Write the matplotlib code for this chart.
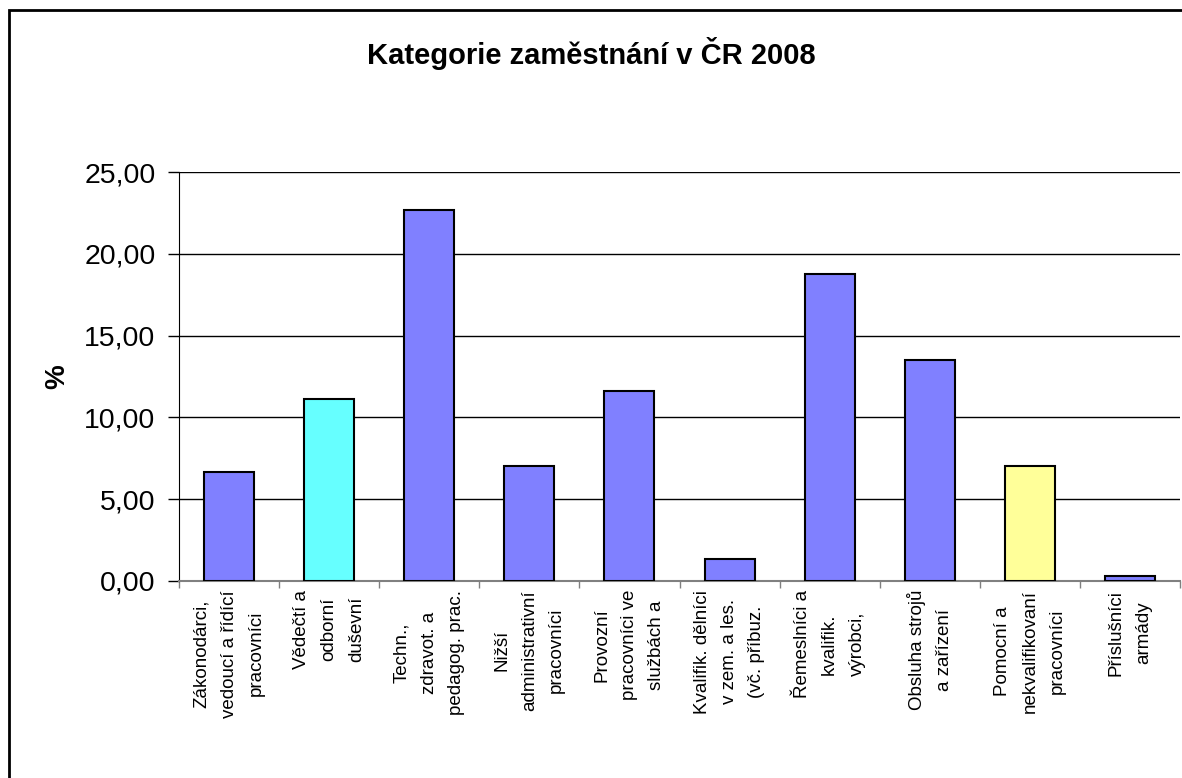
import matplotlib
matplotlib.use('Agg')
import matplotlib.pyplot as plt
from matplotlib.patches import Rectangle
import numpy as np

plt.rcParams['font.family'] = ['Liberation Sans', 'DejaVu Sans']

# data
categories = [
    'Zákonodárci,\nvedoucí a řídící\npracovníci',
    'Vědečtí a\nodborní\nduševní',
    'Techn.,\nzdravot. a\npedagog. prac.',
    'Nižší\nadministrativní\npracovníci',
    'Provozní\npracovníci ve\nslužbách a',
    'Kvalifik. dělníci\nv zem. a les.\n(vč. příbuz.',
    'Řemeslníci a\nkvalifik.\nvýrobci,',
    'Obsluha strojů\na zařízení',
    'Pomocní a\nnekvalifikovaní\npracovníci',
    'Příslušníci\narmády',
]
values = [6.66, 11.12, 22.68, 7.03, 11.61, 1.34, 18.77, 13.51, 7.03, 0.31]
colors = ['#8080FF', '#66FFFF', '#8080FF', '#8080FF', '#8080FF',
          '#8080FF', '#8080FF', '#8080FF', '#FFFF99', '#8080FF']
y_ticks = [0, 5, 10, 15, 20, 25]

fig = plt.figure(figsize=(11.82, 7.78), dpi=100)
ax = fig.add_axes([179 / 1182, 197 / 778, 1001 / 1182, 409 / 778])

x = np.arange(len(values))
ax.bar(x, values, width=0.5, color=colors, edgecolor='black', linewidth=1.5, zorder=3)

ax.set_xlim(-0.5, len(values) - 0.5)
ax.set_ylim(0, 25)
ax.set_yticks(y_ticks)
ax.set_yticklabels([f'{v:.2f}'.replace('.', ',') for v in y_ticks], fontsize=20.5)
ax.yaxis.grid(True, color='black', linewidth=1, zorder=0)
ax.tick_params(axis='y', length=8, width=1, pad=9)

# category labels: rotated, lines centred
ax.set_xticks(x)
ax.set_xticklabels([])
ax.tick_params(axis='x', which='major', length=0)
ax.set_xticks(np.arange(len(values) + 1) - 0.5, minor=True)
ax.tick_params(axis='x', which='minor', length=5, color='#808080', width=1)
for xi, lab in zip(x, categories):
    ax.text(xi, -0.55, lab, rotation=90, ha='center', va='top',
            multialignment='center', fontsize=13.5, linespacing=1.8,
            transform=ax.transData)

for s in ['top', 'right']:
    ax.spines[s].set_visible(False)
ax.spines['left'].set_color('black')
ax.spines['bottom'].set_color('#808080')
ax.spines['bottom'].set_linewidth(1.5)

ax.set_ylabel('%', fontsize=20, fontweight='bold', labelpad=10)

fig.text(591 / 1182, 1 - 53 / 778, 'Kategorie zaměstnání v ČR 2008',
         ha='center', va='center', fontsize=21, fontweight='bold')

# chart border (cut off at right and bottom)
fig.patches.append(Rectangle((9 / 1182, -0.1), 1.2, 1 - 10 / 778 + 0.1,
                             transform=fig.transFigure, fill=False,
                             edgecolor='black', linewidth=2))

fig.savefig('out.png', dpi=100)
